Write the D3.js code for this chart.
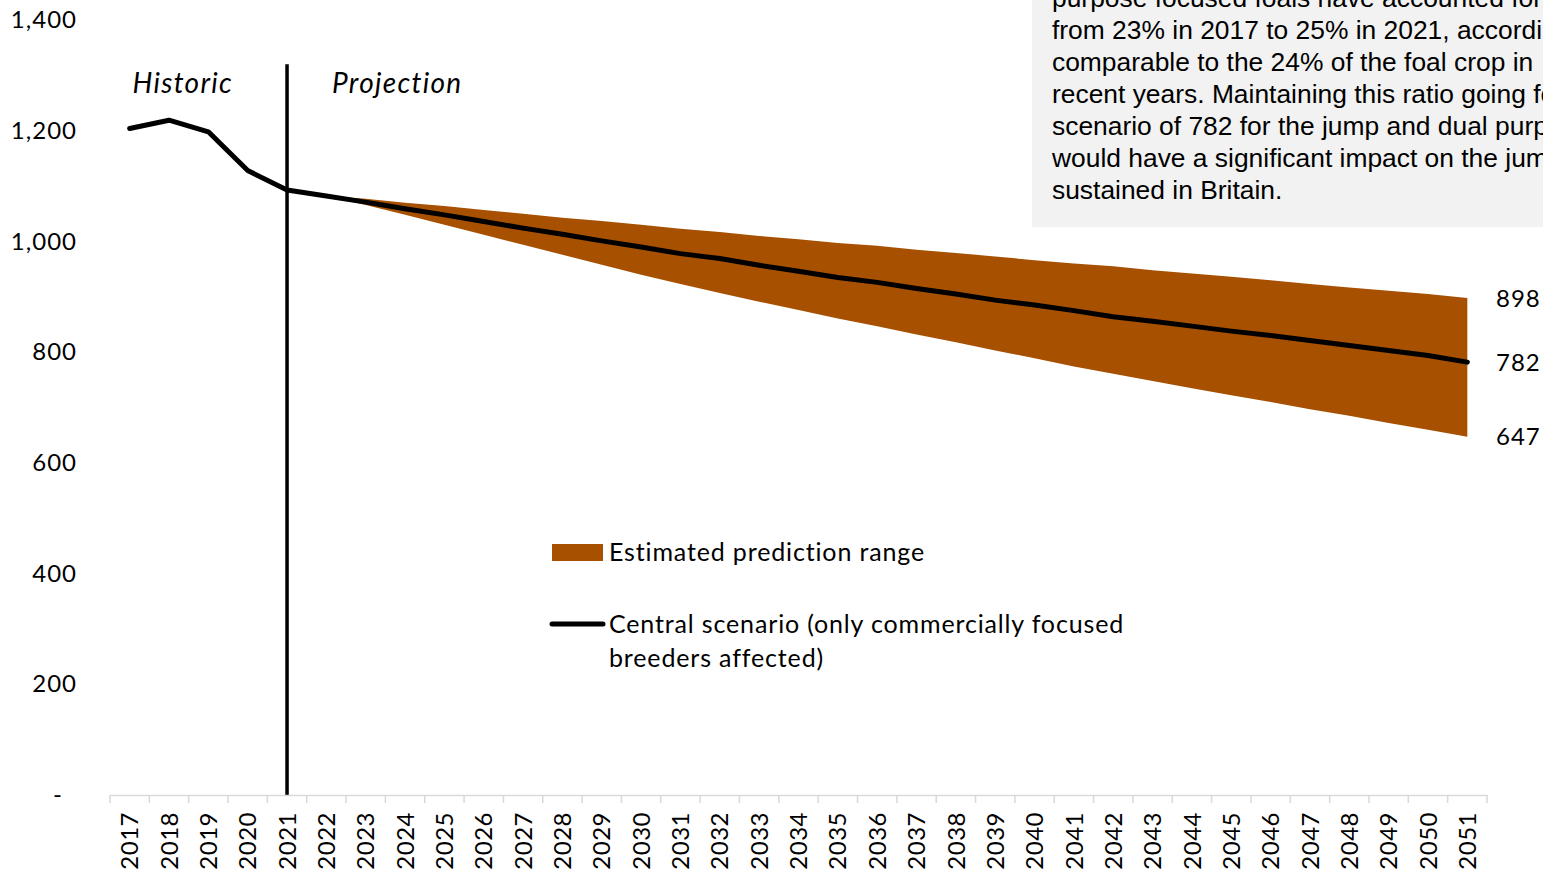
<!DOCTYPE html>
<html>
<head>
<meta charset="utf-8">
<script src="https://cdn.jsdelivr.net/npm/d3@7"></script>
<style>
  html, body { margin: 0; padding: 0; background: #ffffff; overflow: hidden; }
  svg { display: block; }
</style>
</head>
<body>
<svg id="chart" width="1543" height="874"></svg>
<script>
// Year categories along the horizontal axis
const years = [2017, 2018, 2019, 2020, 2021, 2022, 2023, 2024, 2025, 2026, 2027,
  2028, 2029, 2030, 2031, 2032, 2033, 2034, 2035, 2036, 2037, 2038, 2039, 2040,
  2041, 2042, 2043, 2044, 2045, 2046, 2047, 2048, 2049, 2050, 2051];

// Recorded foal numbers
const historicYears = [2017, 2018, 2019, 2020, 2021];
const historic = [1204, 1219, 1198, 1128, 1093];

// Central scenario projection (starts from the last recorded year)
const centralYears = [2021, 2022, 2023, 2024, 2025, 2026, 2027, 2028, 2029, 2030,
  2031, 2032, 2033, 2034, 2035, 2036, 2037, 2038, 2039, 2040, 2041, 2042, 2043,
  2044, 2045, 2046, 2047, 2048, 2049, 2050, 2051];
const central = [1093, 1082, 1071, 1059, 1048, 1036, 1024, 1013, 1001, 990,
  978, 969, 957, 946, 935, 926, 915, 905, 894, 885, 875, 864, 856,
  847, 838, 830, 821, 812, 803, 794, 782];

// Estimated prediction range
const rangeYears = [2022, 2023, 2024, 2025, 2026, 2027, 2028, 2029, 2030,
  2031, 2032, 2033, 2034, 2035, 2036, 2037, 2038, 2039, 2040, 2041, 2042, 2043,
  2044, 2045, 2046, 2047, 2048, 2049, 2050, 2051];
const upper = [1082, 1077, 1070, 1064, 1057, 1050, 1043, 1037, 1030,
  1023, 1017, 1010, 1004, 997, 992, 985, 979, 973, 966, 960, 955, 948,
  942, 936, 930, 923, 917, 911, 905, 898];
const lower = [1082, 1066, 1048, 1030, 1012, 994, 976, 958, 940,
  923, 907, 891, 876, 861, 847, 832, 818, 803, 789, 774, 761, 748,
  735, 722, 710, 697, 685, 672, 660, 647];

// Value axis ticks
const yTicks = [0, 200, 400, 600, 800, 1000, 1200, 1400];

// Boundary between recorded and projected values, and its top extent
const dividerYear = 2021;
const dividerTop = 1320;

// Commentary panel
const noteLines = [
  "purpose focused foals have accounted for",
  "from 23% in 2017 to 25% in 2021, according",
  "comparable to the 24% of the foal crop in",
  "recent years. Maintaining this ratio going forward",
  "scenario of 782 for the jump and dual purpose",
  "would have a significant impact on the jump",
  "sustained in Britain."
];

const legendItems = [
  { type: "area", lines: ["Estimated prediction range"] },
  { type: "line", lines: ["Central scenario (only commercially focused", "breeders affected)"] }
];

const FONT = "Lato, 'Open Sans', sans-serif";
const BAND_COLOR = "#a65000";

const svg = d3.select("#chart");

const x = d3.scaleBand().domain(years).range([110, 1487]).padding(0);
const cx = d => x(d) + x.bandwidth() / 2;
const y = d3.scaleLinear().domain([0, 1400]).range([795, 20]);

// Commentary panel
const note = svg.append("g");
note.append("rect")
  .attr("x", 1032).attr("y", -10)
  .attr("width", 600).attr("height", 237)
  .attr("fill", "#f2f2f2");
note.selectAll("text").data(noteLines).join("text")
  .attr("x", 1052)
  .attr("y", (d, i) => 7 + i * 32)
  .attr("font-family", "'Liberation Sans', Arial, sans-serif")
  .attr("font-size", 26.4)
  .attr("fill", "#000")
  .text(d => d);

// Prediction range band
const rangeData = rangeYears.map((yr, i) => ({ yr, hi: upper[i], lo: lower[i] }));
svg.append("path")
  .datum(rangeData)
  .attr("fill", BAND_COLOR)
  .attr("d", d3.area().x(d => cx(d.yr)).y0(d => y(d.lo)).y1(d => y(d.hi)));

// Historic + central scenario line
const lineData = historicYears.map((yr, i) => ({ yr, v: historic[i] }))
  .concat(centralYears.slice(1).map((yr, i) => ({ yr, v: central[i + 1] })));
svg.append("path")
  .datum(lineData)
  .attr("fill", "none")
  .attr("stroke", "#000")
  .attr("stroke-width", 5)
  .attr("stroke-linejoin", "round")
  .attr("stroke-linecap", "round")
  .attr("d", d3.line().x(d => cx(d.yr)).y(d => y(d.v)));

// Divider between historic and projection
svg.append("line")
  .attr("x1", cx(dividerYear)).attr("x2", cx(dividerYear))
  .attr("y1", y(dividerTop)).attr("y2", y(0))
  .attr("stroke", "#000").attr("stroke-width", 3.5);

const periodLabel = (txt, xPos, anchor) => svg.append("text")
  .attr("x", xPos).attr("y", 93)
  .attr("text-anchor", anchor)
  .attr("font-family", FONT).attr("font-style", "italic")
  .attr("font-size", 28).attr("letter-spacing", 1.3).attr("fill", "#000")
  .text(txt);
periodLabel("Historic", cx(dividerYear) - 54, "end");
periodLabel("Projection", cx(dividerYear) + 45, "start");

// Horizontal axis
const xAxis = svg.append("g")
  .attr("transform", `translate(0,${y(0)})`)
  .call(d3.axisBottom(x).tickSize(0).tickPadding(0));
xAxis.select(".domain").attr("stroke", "#d9d9d9").attr("stroke-width", 1.5);
xAxis.selectAll(".tick text")
  .attr("transform", "rotate(-90)")
  .attr("text-anchor", "end")
  .attr("x", -17).attr("y", 0).attr("dy", "0.36em")
  .attr("font-family", FONT).attr("font-size", 24)
  .attr("letter-spacing", 0.5).attr("fill", "#000");
// Category boundary ticks
const boundaries = years.map(d => x(d)).concat([x.range()[1]]);
xAxis.selectAll(".boundary").data(boundaries).join("line")
  .attr("class", "boundary")
  .attr("x1", d => d).attr("x2", d => d)
  .attr("y1", 0).attr("y2", 8)
  .attr("stroke", "#d9d9d9").attr("stroke-width", 1.5);

// Vertical axis labels
const yAxis = svg.append("g")
  .attr("transform", "translate(77,0)")
  .call(d3.axisLeft(y).tickValues(yTicks).tickSize(0).tickPadding(0)
    .tickFormat(d => d === 0 ? "-" : d3.format(",")(d)));
yAxis.select(".domain").remove();
yAxis.selectAll(".tick text")
  .attr("font-family", FONT).attr("font-size", 24)
  .attr("letter-spacing", 1).attr("fill", "#000")
  .attr("dx", d => d === 0 ? -14 : 0);

// End-of-projection value labels
const lastIdx = rangeYears.length - 1;
const endValues = [upper[lastIdx], central[central.length - 1], lower[lastIdx]];
svg.selectAll(".end-label").data(endValues).join("text")
  .attr("class", "end-label")
  .attr("x", 1496).attr("y", d => y(d)).attr("dy", "0.36em")
  .attr("font-family", FONT).attr("font-size", 24)
  .attr("letter-spacing", 1).attr("fill", "#000")
  .text(d => d3.format(",")(d));

// Legend
const legend = svg.append("g").attr("transform", "translate(552,552)");
legendItems.forEach((item, i) => {
  const g = legend.append("g").attr("transform", `translate(0,${i * 72})`);
  if (item.type === "area") {
    g.append("rect").attr("x", 0).attr("y", -8).attr("width", 51).attr("height", 17)
      .attr("fill", BAND_COLOR);
  } else {
    g.append("line").attr("x1", 0).attr("x2", 51).attr("y1", 0).attr("y2", 0)
      .attr("stroke", "#000").attr("stroke-width", 5).attr("stroke-linecap", "round");
  }
  g.selectAll("text").data(item.lines).join("text")
    .attr("x", 57).attr("y", (d, j) => j * 34).attr("dy", "0.36em")
    .attr("font-family", FONT).attr("font-size", 25)
    .attr("letter-spacing", 0.85).attr("fill", "#000")
    .text(d => d);
});
</script>
</body>
</html>
